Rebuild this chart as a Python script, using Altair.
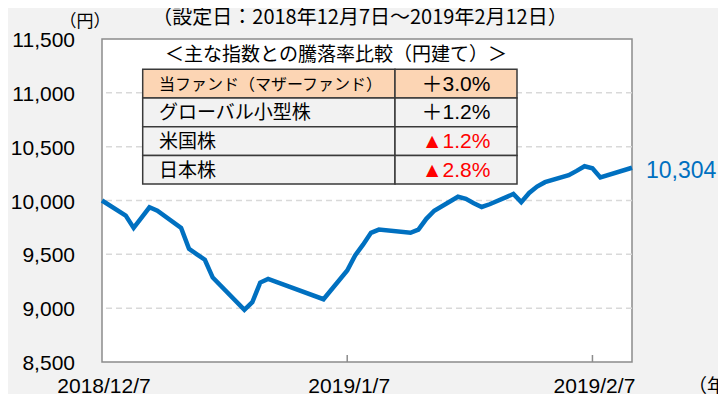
import altair as alt
import pandas as pd

# ---- data ----
dates = ["2018-12-07", "2018-12-10", "2018-12-11", "2018-12-12", "2018-12-13", "2018-12-14",
         "2018-12-17", "2018-12-18", "2018-12-19", "2018-12-20", "2018-12-21", "2018-12-25",
         "2018-12-26", "2018-12-27", "2018-12-28", "2019-01-04", "2019-01-07", "2019-01-08",
         "2019-01-09", "2019-01-10", "2019-01-11", "2019-01-15", "2019-01-16", "2019-01-17",
         "2019-01-18", "2019-01-21", "2019-01-22", "2019-01-23", "2019-01-24", "2019-01-25",
         "2019-01-28", "2019-01-29", "2019-01-30", "2019-01-31", "2019-02-01", "2019-02-04",
         "2019-02-05", "2019-02-06", "2019-02-07", "2019-02-08", "2019-02-12"]
nav = [10000, 9860, 9745, 9840, 9937, 9905,
       9745, 9552, 9500, 9450, 9284, 8985,
       9055, 9238, 9272, 9083, 9350, 9490,
       9590, 9700, 9730, 9700, 9730, 9830,
       9905, 10035, 10015, 9975, 9940, 9965,
       10060, 9985, 10070, 10130, 10170, 10235,
       10275, 10318, 10300, 10215, 10304]

y_ticks = [8500, 9000, 9500, 10000, 10500, 11000, 11500]
grid_vals = [9000, 9500, 10000, 10500, 11000]
x_label_dates = ["2018-12-07", "2019-01-07", "2019-02-07"]
x_tick_dates = ["2019-01-07", "2019-02-07"]

title_text = "（設定日：2018年12月7日～2019年2月12日）"
yen_text = "（円）"
date_unit_text = "（年/月/日）"
table_title = "＜主な指数との騰落率比較（円建て）＞"
table_labels = ["当ファンド（マザーファンド）", "グローバル小型株", "米国株", "日本株"]
table_values = ["＋3.0%", "＋1.2%", "▲1.2%", "▲2.8%"]

# ---- geometry / style ----
W, H = 530, 323
BLUE = "#0070c0"
JP = "Noto Sans CJK JP"
NUM = "Liberation Sans"


def dt(s):
    y, m, d = [int(p) for p in s.split("-")]
    return alt.DateTime(year=y, month=m, date=d, utc=True)


df = pd.DataFrame({"date": dates, "nav": nav})

x_scale = alt.Scale(type="utc", domain=[dt("2018-12-07"), dt("2019-02-12")], nice=False)
y_scale = alt.Scale(domain=[8500, 11500], nice=False, zero=False)

grid = alt.Chart(pd.DataFrame({"g": grid_vals})).mark_rule(
    color="#d9d9d9", strokeWidth=1.5, strokeDash=[6, 4]
).encode(y=alt.Y("g:Q", scale=y_scale, axis=None))

ticks = alt.Chart(pd.DataFrame({"d": x_tick_dates})).mark_rule(
    color="#8c8c8c", strokeWidth=1.5
).encode(x=alt.X("d:T", scale=x_scale, axis=None), y=alt.value(H), y2=alt.value(H - 7))

line = alt.Chart(df).mark_line(color=BLUE, strokeWidth=4.5).encode(
    x=alt.X("date:T", scale=x_scale, axis=None),
    y=alt.Y("nav:Q", scale=y_scale, axis=None),
)

last = alt.Chart(df.tail(1)).mark_text(
    align="left", baseline="middle", dx=14, dy=3, font=NUM, fontSize=23, color=BLUE
).encode(x=alt.X("date:T", scale=x_scale, axis=None),
         y=alt.Y("nav:Q", scale=y_scale, axis=None),
         text=alt.Text("nav:Q", format=","))

# axis labels drawn through the scales
ylab = alt.Chart(pd.DataFrame({"v": y_ticks})).mark_text(
    align="right", baseline="middle", font=NUM, fontSize=21, color="#000000", dy=2
).encode(x=alt.value(-27), y=alt.Y("v:Q", scale=y_scale, axis=None),
         text=alt.Text("v:Q", format=","))

xlab = alt.Chart(pd.DataFrame({"d": x_label_dates})).transform_calculate(
    lab="utcFormat(toDate(datum.d), '%Y/%-m/%-d')"
).mark_text(
    align="center", baseline="alphabetic", font=NUM, fontSize=21, color="#000000", dx=2
).encode(x=alt.X("d:T", scale=x_scale, axis=None), y=alt.value(H + 31), text="lab:N")

# table
rows = []
for i, (lab, val) in enumerate(zip(table_labels, table_values)):
    rows.append({"i": i, "col": 0, "txt": lab})
    rows.append({"i": i, "col": 1, "txt": val})
tdf = pd.DataFrame(rows)

base_t = alt.Chart(tdf).transform_calculate(
    x1="datum.col == 0 ? 40.7 : 293",
    x2="datum.col == 0 ? 293 : 415",
    y1="30.3 + datum.i * 28.7",
    y2="30.3 + (datum.i + 1) * 28.7",
    ym="30.3 + (datum.i + 0.5) * 28.7",
    xt="datum.col == 0 ? 57 : 354",
    fillc="datum.i == 0 ? '#fcd5b4' : '#f2f2f2'",
    txtc="indexof(datum.txt, '▲') >= 0 ? '#ff0000' : '#000000'",
    fs="datum.col == 1 ? 21 : (datum.i == 0 ? 16 : 19)",
)

cells = base_t.mark_rect(stroke="#3a3a3a", strokeWidth=1.5).encode(
    x=alt.X("x1:Q", scale=None, axis=None), x2="x2:Q",
    y=alt.Y("y1:Q", scale=None, axis=None), y2="y2:Q",
    fill=alt.Color("fillc:N", scale=None),
)

label_txt = base_t.transform_filter("datum.col == 0").mark_text(
    align="left", baseline="middle", font=JP, dy=1
).encode(x=alt.X("xt:Q", scale=None, axis=None), y=alt.Y("ym:Q", scale=None, axis=None),
         text="txt:N", color=alt.Color("txtc:N", scale=None),
         size=alt.Size("fs:Q", scale=None))

value_txt = base_t.transform_filter("datum.col == 1").mark_text(
    align="center", baseline="middle", font=NUM + ", " + JP, dy=1
).encode(x=alt.X("xt:Q", scale=None, axis=None), y=alt.Y("ym:Q", scale=None, axis=None),
         text="txt:N", color=alt.Color("txtc:N", scale=None),
         size=alt.Size("fs:Q", scale=None))


def note(text, x, y, size, align="center", font=JP, color="#000000", baseline="middle"):
    return alt.Chart(pd.DataFrame({"t": [text]})).mark_text(
        align=align, baseline=baseline, font=font, fontSize=size, color=color
    ).encode(text="t:N", x=alt.value(x), y=alt.value(y))


ttitle = note(table_title, 234, 16, 19)
title = note(title_text, 258, -21, 20)
yen = note(yen_text, -17, -17, 17)
unit = note(date_unit_text, 586, H + 31, 19, align="left", baseline="alphabetic")

chart = alt.layer(grid, ticks, line, last, ylab, xlab, cells, label_txt, value_txt,
                  ttitle, title, yen, unit).properties(
    width=W, height=H,
    autosize=alt.AutoSizeParams(type="none"),
    padding={"left": 94, "top": 31, "right": 86, "bottom": 32},
    background="#f2f2f2",
).configure_view(fill="#ffffff", stroke="#8c8c8c", strokeWidth=1.5)

chart.save("out.html", embed_options={"renderer": "svg", "actions": False})
